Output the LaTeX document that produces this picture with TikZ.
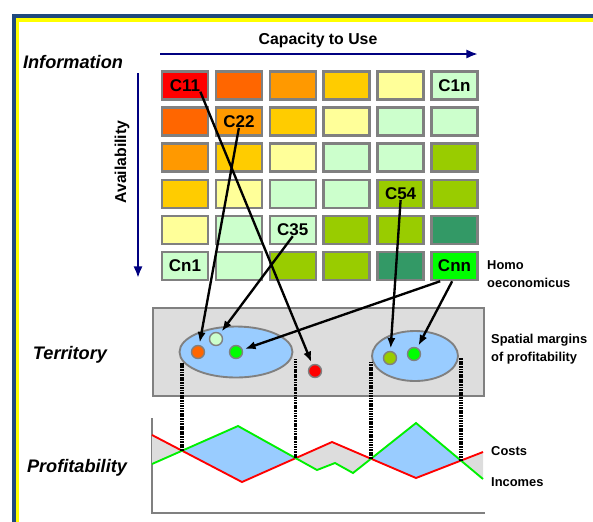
\documentclass[tikz,border=0pt]{standalone}
\usepackage{fontspec}
\setmainfont{Liberation Sans}
\usetikzlibrary{shapes.geometric,intersections,calc,arrows.meta}
\definecolor{frame-blue}{HTML}{1F497D}
\definecolor{frame-yellow}{HTML}{FFFF00}
\definecolor{axis-navy}{HTML}{000080}
\definecolor{edge-gray}{HTML}{808080}
\definecolor{fog}{HTML}{DDDDDD}
\definecolor{sky}{HTML}{99CCFF}
\definecolor{tone-red}{HTML}{FF0000}
\definecolor{tone-orange}{HTML}{FF6600}
\definecolor{tone-amber}{HTML}{FF9900}
\definecolor{tone-gold}{HTML}{FFCC00}
\definecolor{tone-cream}{HTML}{FFFF99}
\definecolor{tone-mint}{HTML}{CCFFCC}
\definecolor{tone-olive}{HTML}{99CC00}
\definecolor{tone-forest}{HTML}{339966}
\definecolor{tone-lime}{HTML}{00FF00}
\definecolor{cost-red}{HTML}{FF0000}
\definecolor{income-green}{HTML}{00F000}

\begin{document}
\begin{tikzpicture}[x=0.03cm, y=-0.03cm,
    every node/.style={font=\bfseries},
    cell/.style={draw=edge-gray, line width=2.1pt, minimum width=1.38cm, minimum height=0.84cm, inner sep=0pt},
    tag/.style={inner sep=0pt, font=\fontsize{14.5}{16}\selectfont\bfseries},
    dot/.style={circle, draw=edge-gray, line width=1.2pt, minimum size=0.39cm, inner sep=0pt},
    pool/.style={ellipse, draw=edge-gray, line width=1.6pt, fill=sky, inner sep=0pt},
    link/.style={-{Latex[length=9pt,width=7pt]}, line width=2pt, shorten >=2pt},
    margin/.style={line width=2.8pt, dash pattern=on 1.5pt off 0.7pt},
    title/.style={font=\fontsize{15.5}{18}\selectfont\bfseries\itshape},
    note/.style={align=left, anchor=west, inner sep=0pt, font=\fontsize{11}{15}\selectfont\bfseries}]
    \useasboundingbox (0,0) rectangle (593,521);
    % frame
    \draw[frame-blue, line width=3.4pt] (14,16) rectangle (700,700);
    \draw[frame-yellow, line width=2.9pt] (17.8,20) rectangle (700,700);
    % axes of the matrix
    \node[font=\fontsize{13.5}{16}\selectfont\bfseries] (capacity) at (318,40) {Capacity to Use};
    \draw[axis-navy, line width=2pt, -{Latex[length=10pt,width=8pt]}] (160,54) -- (478,54);
    \draw[axis-navy, line width=2pt, -{Latex[length=10pt,width=8pt]}] (138,73) -- (138,278);
    \node[rotate=90, font=\fontsize{13.5}{16}\selectfont\bfseries] (avail) at (122,162) {Availability};
    \node[title] (info) at (73,62) {Information};
    \node[title] (terr) at (70,355) {Territory};
    \node[title] (profit) at (77,468) {Profitability};
    % row 1
    \node[cell, fill=tone-red] (c11) at (185,85.5) {};
    \node[cell, fill=tone-orange] (c12) at (238.9,85.5) {};
    \node[cell, fill=tone-amber] (c13) at (292.8,85.5) {};
    \node[cell, fill=tone-gold] (c14) at (346.7,85.5) {};
    \node[cell, fill=tone-cream] (c15) at (400.6,85.5) {};
    \node[cell, fill=tone-mint] (c16) at (454.5,85.5) {};
    % row 2
    \node[cell, fill=tone-orange] (c21) at (185,121.6) {};
    \node[cell, fill=tone-amber] (c22) at (238.9,121.6) {};
    \node[cell, fill=tone-gold] (c23) at (292.8,121.6) {};
    \node[cell, fill=tone-cream] (c24) at (346.7,121.6) {};
    \node[cell, fill=tone-mint] (c25) at (400.6,121.6) {};
    \node[cell, fill=tone-mint] (c26) at (454.5,121.6) {};
    % row 3
    \node[cell, fill=tone-amber] (c31) at (185,157.7) {};
    \node[cell, fill=tone-gold] (c32) at (238.9,157.7) {};
    \node[cell, fill=tone-cream] (c33) at (292.8,157.7) {};
    \node[cell, fill=tone-mint] (c34) at (346.7,157.7) {};
    \node[cell, fill=tone-mint] (c35) at (400.6,157.7) {};
    \node[cell, fill=tone-olive] (c36) at (454.5,157.7) {};
    % row 4
    \node[cell, fill=tone-gold] (c41) at (185,193.8) {};
    \node[cell, fill=tone-cream] (c42) at (238.9,193.8) {};
    \node[cell, fill=tone-mint] (c43) at (292.8,193.8) {};
    \node[cell, fill=tone-mint] (c44) at (346.7,193.8) {};
    \node[cell, fill=tone-olive] (c45) at (400.6,193.8) {};
    \node[cell, fill=tone-olive] (c46) at (454.5,193.8) {};
    % row 5
    \node[cell, fill=tone-cream] (c51) at (185,229.9) {};
    \node[cell, fill=tone-mint] (c52) at (238.9,229.9) {};
    \node[cell, fill=tone-mint] (c53) at (292.8,229.9) {};
    \node[cell, fill=tone-olive] (c54) at (346.7,229.9) {};
    \node[cell, fill=tone-olive] (c55) at (400.6,229.9) {};
    \node[cell, fill=tone-forest] (c56) at (454.5,229.9) {};
    % row 6
    \node[cell, fill=tone-mint] (c61) at (185,266) {};
    \node[cell, fill=tone-mint] (c62) at (238.9,266) {};
    \node[cell, fill=tone-olive] (c63) at (292.8,266) {};
    \node[cell, fill=tone-olive] (c64) at (346.7,266) {};
    \node[cell, fill=tone-forest] (c65) at (400.6,266) {};
    \node[cell, fill=tone-lime] (c66) at (454.5,266) {};
    % cell labels
    \node[tag] (t11) at (c11) {C11};
    \node[tag] (t22) at (c22) {C22};
    \node[tag] (t16) at (c16) {C1n};
    \node[tag] (t35) at (c53) {C35};
    \node[tag] (t54) at (c45) {C54};
    \node[tag] (t61) at (c61) {Cn1};
    \node[tag] (t66) at (c66) {Cnn};
    \node[note] (homo) at (487,274) {Homo\\oeconomicus};
    % territory
    \draw[draw=edge-gray, fill=fog, line width=1.6pt] (153,308) rectangle (484,396);
    \node[pool, minimum width=3.39cm, minimum height=1.53cm] (ell1) at (236,352) {};
    \node[pool, minimum width=2.58cm, minimum height=1.5cm] (ell2) at (415,356) {};
    \node[dot, fill=tone-orange] (odot) at (198,352) {};
    \node[dot, fill=tone-mint] (mdot) at (216,339) {};
    \node[dot, fill=tone-lime] (gdot1) at (236,352) {};
    \node[dot, fill=tone-red] (rdot) at (315,371) {};
    \node[dot, fill=tone-olive] (vdot) at (390,358) {};
    \node[dot, fill=tone-lime] (gdot2) at (414,354) {};
    \node[note] (margins) at (491,349) {Spatial margins\\of profitability};
    \draw[link] (t11.south east) -- (rdot);
    \draw[link] (t22.south) -- (odot);
    \draw[link] (t35.south) -- (mdot);
    \draw[link] (t54.south) -- (vdot);
    \draw[link] ([xshift=-0.43cm]c66.south) -- (gdot1);
    \draw[link] ([xshift=-0.07cm]c66.south) -- (gdot2);
    % profitability
    \draw[edge-gray, line width=2pt] (152,418) -- (152,513) -- (485,513);
    \path[name path=costs-line] (152,435) -- (242,482) -- (332,442) -- (416,478) -- (483,452);
    \path[name path=incomes-line] (152,464) -- (238,426) -- (317,470) -- (335,463) -- (353,473) -- (416,423) -- (483,479);
    \path[name intersections={of=costs-line and incomes-line, sort by=costs-line, by={k1,k2,k3,k4}}];
    \fill[fog] (152,435) -- (242,482) -- (332,442) -- (416,478) -- (483,452) -- (483,479) -- (416,423) -- (353,473) -- (335,463) -- (317,470) -- (238,426) -- (152,464) -- cycle;
    \begin{scope}
      \clip (152,435) -- (242,482) -- (332,442) -- (416,478) -- (483,452) -- (483,479) -- (416,423) -- (353,473) -- (335,463) -- (317,470) -- (238,426) -- (152,464) -- cycle;
      \fill[sky] (k1 |- 0,400) rectangle (k2 |- 0,500);
      \fill[sky] (k3 |- 0,400) rectangle (k4 |- 0,500);
    \end{scope}
    \draw[cost-red, line width=1.6pt] (152,435) -- (242,482) -- (332,442) -- (416,478) -- (483,452);
    \draw[income-green, line width=1.6pt] (152,464) -- (238,426) -- (317,470) -- (335,463) -- (353,473) -- (416,423) -- (483,479);
    \draw[margin] (k1) -- ($(k1 |- ell1.center)+(0,11)$);
    \draw[margin] (k2) -- ($(k2 |- ell1.center)+(0,7)$);
    \draw[margin] (k3) -- ($(k3 |- ell2.center)+(0,5)$);
    \draw[margin] (k4) -- ($(k4 |- ell2.center)+(0,2)$);
    \node[note] (costs) at (491,451) {Costs};
    \node[note] (incomes) at (491,482) {Incomes};
  \end{tikzpicture}
\end{document}
